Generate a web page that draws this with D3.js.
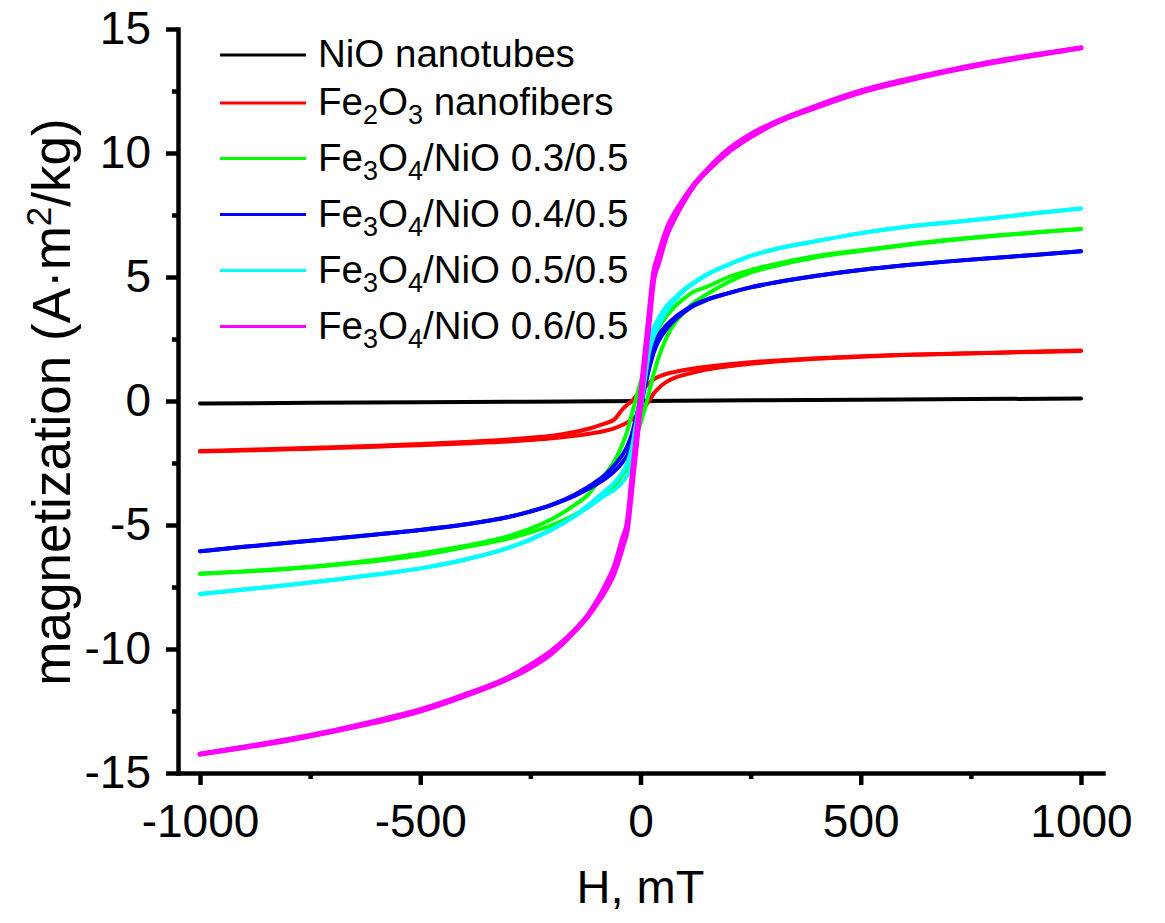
<!DOCTYPE html>
<html><head><meta charset="utf-8">
<script src="https://cdn.jsdelivr.net/npm/d3@7"></script>
<style>
body{margin:0;background:#fff}
text{font-family:"Liberation Sans",Arial,sans-serif;fill:#000}
</style>
</head><body>
<svg id="c" width="1165" height="923"></svg>
<script>
// ---------------- DATA ----------------
// Field grid (mT) shared by hysteresis branches
const fieldH = [-1000,-900,-800,-700,-600,-500,-400,-300,-250,-200,-150,-120,-100,-80,-60,-40,-30,-20,-10,0,10,20,30,40,60,80,100,120,150,200,250,300,400,500,600,700,800,900,1000];

const nioH = [-1000,-500,0,500,1000];
const nioM = [-0.1,-0.05,0,0.05,0.1];

const fe2o3Desc = [-2.02,-1.97,-1.92,-1.86,-1.8,-1.73,-1.65,-1.55,-1.48,-1.4,-1.25,-1.13,-1.02,-0.9,-0.75,-0.32,-0.15,0.0,0.2,0.38,0.55,0.72,0.87,0.97,1.1,1.18,1.25,1.31,1.38,1.48,1.56,1.62,1.72,1.8,1.86,1.91,1.95,2.0,2.04];
const fe2o3Asc  = [-2.04,-2.0,-1.95,-1.9,-1.84,-1.78,-1.71,-1.63,-1.57,-1.5,-1.4,-1.33,-1.27,-1.2,-1.1,-0.96,-0.87,-0.75,-0.62,-0.45,-0.22,0.02,0.3,0.5,0.78,0.95,1.06,1.15,1.27,1.4,1.5,1.58,1.7,1.78,1.85,1.9,1.94,1.98,2.02];

const s03Desc = [-6.97,-6.87,-6.75,-6.6,-6.4,-6.15,-5.85,-5.45,-5.15,-4.75,-4.2,-3.8,-3.35,-2.95,-2.45,-1.7,-1.2,-0.55,0.1,0.75,1.4,2.0,2.5,2.9,3.45,3.85,4.15,4.4,4.6,5.0,5.28,5.5,5.85,6.08,6.3,6.5,6.66,6.8,6.94];
const s03Asc  = [-6.97,-6.88,-6.77,-6.62,-6.45,-6.22,-5.9,-5.55,-5.3,-5.0,-4.6,-4.25,-3.97,-3.7,-3.4,-2.95,-2.7,-2.15,-1.5,-0.9,-0.3,0.4,1.1,1.7,2.6,3.2,3.6,3.95,4.3,4.8,5.18,5.42,5.8,6.05,6.28,6.48,6.65,6.8,6.94];

const s04Desc = [-6.06,-5.88,-5.72,-5.55,-5.38,-5.2,-4.98,-4.68,-4.45,-4.17,-3.78,-3.48,-3.24,-2.97,-2.6,-2.15,-1.82,-1.35,-0.65,0.1,0.95,1.68,2.25,2.62,3.08,3.4,3.65,3.87,4.09,4.35,4.58,4.76,5.05,5.28,5.47,5.63,5.77,5.9,6.04];
const s04Asc  = [-6.06,-5.88,-5.72,-5.55,-5.38,-5.2,-4.98,-4.68,-4.46,-4.19,-3.83,-3.56,-3.36,-3.13,-2.84,-2.45,-2.18,-1.75,-1.05,-0.3,0.55,1.32,1.95,2.38,2.92,3.3,3.59,3.83,4.07,4.35,4.58,4.76,5.05,5.28,5.47,5.63,5.77,5.9,6.04];

const s05Desc = [-7.78,-7.6,-7.42,-7.22,-7.0,-6.75,-6.4,-5.92,-5.58,-5.15,-4.62,-4.22,-3.92,-3.62,-3.3,-2.85,-2.5,-1.9,-0.9,0.25,1.35,2.4,2.95,3.3,3.85,4.2,4.52,4.77,5.1,5.5,5.85,6.1,6.45,6.77,7.02,7.2,7.38,7.58,7.76];
const s05Asc  = [-7.78,-7.6,-7.42,-7.22,-7.0,-6.75,-6.4,-5.92,-5.6,-5.18,-4.66,-4.3,-4.05,-3.8,-3.6,-3.25,-3.0,-2.5,-1.5,-0.35,0.85,2.0,2.6,3.0,3.65,4.1,4.47,4.73,5.08,5.5,5.85,6.1,6.45,6.77,7.02,7.2,7.38,7.58,7.76];

const s06Desc = [-14.24,-13.95,-13.65,-13.3,-12.9,-12.45,-11.85,-11.15,-10.65,-10.05,-9.25,-8.65,-8.1,-7.45,-6.7,-5.5,-4.9,-3.2,-1.5,0.2,1.9,3.6,5.2,5.85,6.95,7.65,8.2,8.7,9.3,10.15,10.75,11.2,11.9,12.5,12.95,13.33,13.68,13.97,14.24];
const s06Asc  = [-14.24,-13.97,-13.68,-13.33,-12.95,-12.5,-11.9,-11.2,-10.75,-10.15,-9.3,-8.7,-8.2,-7.65,-6.95,-5.85,-5.2,-3.6,-1.9,-0.2,1.5,3.2,4.9,5.5,6.7,7.45,8.1,8.65,9.25,10.05,10.65,11.15,11.85,12.45,12.9,13.3,13.65,13.95,14.24];

// legend labels: [text, isSubscript]
const labelNiO   = [["NiO nanotubes",0]];
const labelFe2O3 = [["Fe",0],["2",1],["O",0],["3",1],[" nanofibers",0]];
const labelS03   = [["Fe",0],["3",1],["O",0],["4",1],["/NiO 0.3/0.5",0]];
const labelS04   = [["Fe",0],["3",1],["O",0],["4",1],["/NiO 0.4/0.5",0]];
const labelS05   = [["Fe",0],["3",1],["O",0],["4",1],["/NiO 0.5/0.5",0]];
const labelS06   = [["Fe",0],["3",1],["O",0],["4",1],["/NiO 0.6/0.5",0]];

const colors = ["#000000","#ff0000","#00ff00","#0000ff","#00ffff","#ff00ff"];

const xMajor = [-1000,-500,0,500,1000];
const xMinor = [-750,-250,250,750];
const yMajor = [-15,-10,-5,0,5,10,15];
const yMinor = [-12.5,-7.5,-2.5,2.5,7.5,12.5];

const xTitle = "H, mT";

const series = [
  {label: labelNiO,   color: colors[0], w: 4, branches: [[nioH, nioM]]},
  {label: labelFe2O3, color: colors[1], w: 4, branches: [[fieldH, fe2o3Desc],[fieldH, fe2o3Asc]]},
  {label: labelS03,   color: colors[2], w: 4, branches: [[fieldH, s03Desc],[fieldH, s03Asc]]},
  {label: labelS04,   color: colors[3], w: 4, branches: [[fieldH, s04Desc],[fieldH, s04Asc]]},
  {label: labelS05,   color: colors[4], w: 4, branches: [[fieldH, s05Desc],[fieldH, s05Asc]]},
  {label: labelS06,   color: colors[5], w: 5, branches: [[fieldH, s06Desc],[fieldH, s06Asc]]}
];

// ---------------- CHART ----------------
const svg = d3.select("#c");
const x = d3.scaleLinear().domain([-1050,1050]).range([178,1103]);
const y = d3.scaleLinear().domain([-15,15]).range([773,29]);

const line = d3.line().x(d => x(d[0])).y(d => y(d[1])).curve(d3.curveMonotoneX);

const plot = svg.append("g");
series.forEach(s => {
  s.branches.forEach(([hs, ms]) => {
    const pts = hs.map((h, i) => [h, ms[i]]);
    plot.append("path").datum(pts)
      .attr("d", line).attr("fill","none")
      .attr("stroke", s.color).attr("stroke-width", s.w)
      .attr("stroke-linejoin","round").attr("stroke-linecap","round");
  });
});

// axes
const AXW = 4.5;
const fmt = d => String(d);
const gx = svg.append("g").attr("transform","translate(0,773)")
  .call(d3.axisBottom(x).tickValues(xMajor).tickSize(12).tickSizeOuter(0).tickPadding(19).tickFormat(fmt));
const gxm = svg.append("g").attr("transform","translate(0,773)")
  .call(d3.axisBottom(x).tickValues(xMinor).tickSize(6).tickSizeOuter(0).tickFormat(""));
const gy = svg.append("g").attr("transform","translate(178,0)")
  .call(d3.axisLeft(y).tickValues(yMajor).tickSize(12).tickSizeOuter(0).tickPadding(15).tickFormat(fmt));
const gym = svg.append("g").attr("transform","translate(178,0)")
  .call(d3.axisLeft(y).tickValues(yMinor).tickSize(6).tickSizeOuter(0).tickFormat(""));
gxm.select(".domain").remove();
gym.select(".domain").remove();
[gx,gxm,gy,gym].forEach(g => {
  g.selectAll(".domain").attr("stroke","#000").attr("stroke-width",AXW).attr("stroke-linecap","square");
  g.selectAll(".tick line").attr("stroke","#000").attr("stroke-width",AXW);
  g.selectAll(".tick text").style("font-family","'Liberation Sans',Arial,sans-serif").style("font-size","46px").attr("fill","#000");
});

// axis titles
svg.append("text").attr("x", x(0)).attr("y", 903).attr("text-anchor","middle")
  .style("font-size","47px").text(xTitle);

const yt = svg.append("text").attr("transform","translate(70,402) rotate(-90)")
  .attr("text-anchor","middle").style("font-size","53px");
yt.append("tspan").text("magnetization (A·m");
yt.append("tspan").attr("dy",-19).style("font-size","35px").text("2");
yt.append("tspan").attr("dy",19).text("/kg)");

// legend
const legY = [55,103,158.5,214.5,270.5,326.5];
const leg = svg.append("g");
series.forEach((s, i) => {
  const yy = legY[i];
  leg.append("line").attr("x1",220).attr("x2",306).attr("y1",yy).attr("y2",yy)
    .attr("stroke", s.color).attr("stroke-width",3);
  const t = leg.append("text").attr("x",318).attr("y",yy+12).style("font-size","38.5px");
  let sub = false;
  s.label.forEach(([txt, isSub]) => {
    const ts = t.append("tspan").text(txt);
    if (isSub && !sub) { ts.attr("dy",9).style("font-size","27px"); sub = true; }
    else if (!isSub && sub) { ts.attr("dy",-9); sub = false; }
    else if (isSub) { ts.style("font-size","27px"); }
  });
});
</script>
</body></html>
